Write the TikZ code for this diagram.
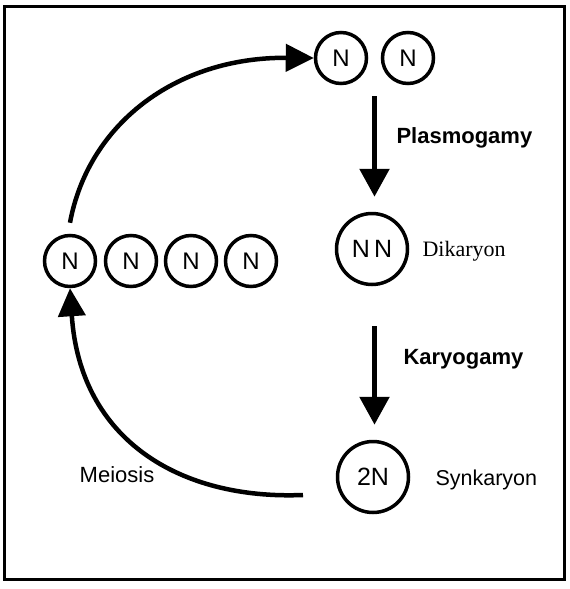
\documentclass[tikz,border=0pt]{standalone}
\usepackage{fontspec}
\setmainfont{Liberation Sans}
\newfontfamily\dikfont{Liberation Serif}
\usetikzlibrary{arrows.meta,positioning,calc}

\begin{document}
\begin{tikzpicture}[x=1pt,y=-1pt,
  nuc/.style={draw, circle, line width=3.5pt, minimum size=51pt, inner sep=0pt, font=\fontsize{24}{28}\selectfont},
  bignuc/.style={draw, circle, line width=3.5pt, minimum size=71pt, inner sep=0pt, font=\fontsize{25}{29}\selectfont},
  stage/.style={font=\fontsize{22}{26}\selectfont\bfseries, anchor=west},
  lbl/.style={font=\fontsize{21.5}{26}\selectfont, anchor=west},
  bigarrow/.style={line width=5.5pt, -{Triangle[length=28pt,width=29pt]}},
  cycarrow/.style={line width=4.5pt, -{Triangle[length=28pt,width=27pt]}}
]
  \useasboundingbox (0,0) rectangle (570,589);
  \draw[line width=3pt] (4,6) rectangle (564,579);

  % haploid pair at the top
  \node[nuc] (nA) at (341,58) {N};
  \node[nuc] (nB) at (408,58) {N};

  % dikaryon and synkaryon
  \node[bignuc] (dik) at (372,249) {N\,N};
  \node[lbl, font=\fontsize{22}{26}\selectfont\dikfont] (diklbl) at (419,251) {Dikaryon};
  \node[bignuc] (syn) at (373,477) {2N};
  \node[lbl] (synlbl) at (432,480) {Synkaryon};

  % meiotic products
  \node[nuc] (m1) at (70,261) {N};
  \node[nuc] (m2) at (131,261) {N};
  \node[nuc] (m3) at (191,261) {N};
  \node[nuc] (m4) at (251,261) {N};

  \coordinate (pairmid) at ($(nA.south)!0.5!(nB.south)$);
  \coordinate (meioend) at (303,495);

  \draw[bigarrow, shorten <=11pt, shorten >=15pt] (pairmid) -- (pairmid |- dik.north);
  \node[stage] (plas) at (393,138) {Plasmogamy};
  \draw[bigarrow, shorten <=40pt, shorten >=15pt] (dik.south -| pairmid) -- (syn.north -| pairmid);
  \node[stage] (kary) at (400,359) {Karyogamy};

  % cycle back
  \draw[cycarrow] ([yshift=11pt]m1.north) .. controls (88,125) and (175,57) .. (nA.west);
  \draw[cycarrow] (meioend) .. controls (180,500) and (80,440) .. (m1.south);
  \node[font=\fontsize{22}{26}\selectfont] (meio) at (117,475) {Meiosis};
\end{tikzpicture}
\end{document}
